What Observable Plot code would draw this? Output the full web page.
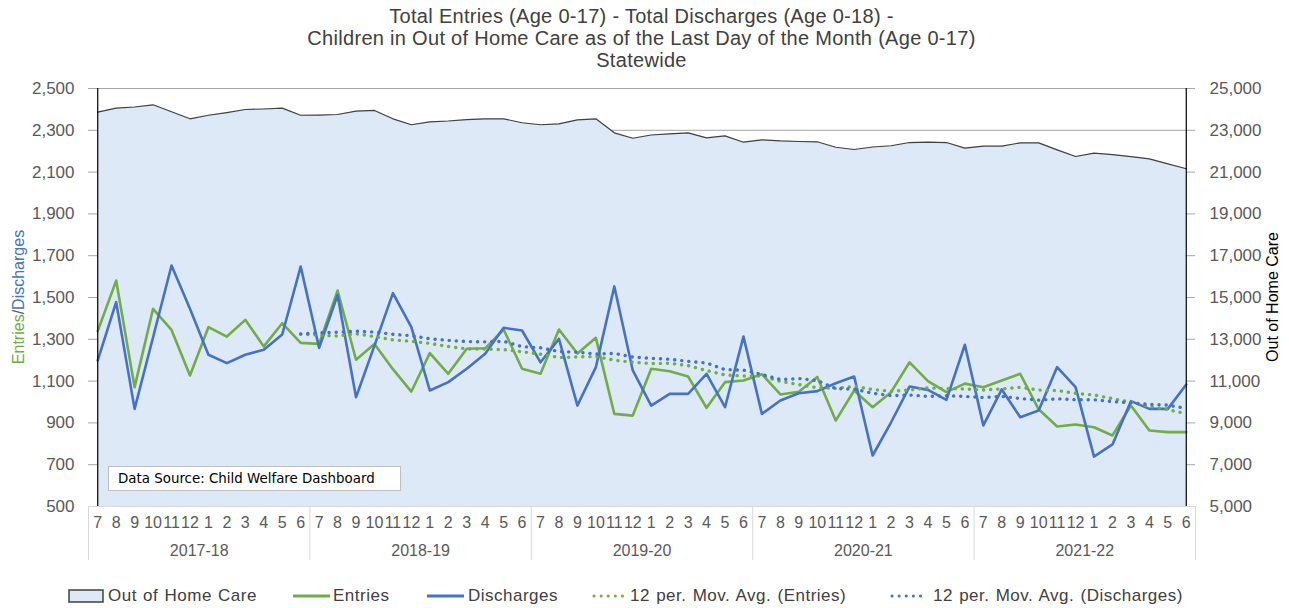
<!DOCTYPE html>
<html>
<head>
<meta charset="utf-8">
<script src="https://cdn.jsdelivr.net/npm/d3@7"></script>
<script src="https://cdn.jsdelivr.net/npm/@observablehq/plot@0.6"></script>
<style>
  body { margin: 0; background: #fff; font-family: "Liberation Sans", Arial, sans-serif; }
  #wrap { position: relative; width: 1289px; height: 608px; overflow: hidden; }
  #title { position: absolute; left: 0; top: 5px; width: 1283px; text-align: center; font-size: 20px; letter-spacing: 0.3px; line-height: 22px; color: #404040; }
  #chart { position: absolute; left: 0; top: 72px; }
  #src { position: absolute; left: 108px; top: 466px; width: 293px; height: 25px; border: 1px solid #bfbfbf; background: #fff;
         font-family: "DejaVu Sans", sans-serif; font-size: 13.4px; line-height: 24px; padding-left: 9px; box-sizing: border-box; color: #000; }
  #legend { position: absolute; left: 0; top: 584px; width: 1289px; height: 24px; font-size: 17px; letter-spacing: 0.5px; word-spacing: 1px; color: #404040; }
  .item { position: absolute; top: 0; height: 24px; display: flex; align-items: center; white-space: nowrap; }
  .item svg { display: block; }
</style>
</head>
<body>
<div id="wrap">
  <div id="title">Total Entries (Age 0-17) - Total Discharges (Age 0-18) -<br>Children in Out of Home Care as of the Last Day of the Month (Age 0-17)<br>Statewide</div>
  <div id="chart"></div>
  <div id="src">Data Source: Child Welfare Dashboard</div>
  <div id="legend"></div>
</div>
<script>
// ---- data ----
const monthLabels = ["7","8","9","10","11","12","1","2","3","4","5","6"];
const fiscalYears = ["2017-18","2018-19","2019-20","2020-21","2021-22"];
const leftTicks = [500, 700, 900, 1100, 1300, 1500, 1700, 1900, 2100, 2300, 2500];

const entries = [
  1339, 1581, 1071, 1446, 1345, 1127, 1358, 1313, 1393, 1266, 1377, 1283,
  1278, 1533, 1202, 1278, 1157, 1050, 1234, 1135, 1255, 1257, 1347, 1159,
  1135, 1347, 1232, 1307,  943,  935, 1159, 1147, 1122,  972, 1095, 1103,
  1133, 1036, 1049, 1120,  911, 1055,  975, 1047, 1190, 1100, 1047, 1088,
  1071, 1103, 1135,  965,  883,  892,  879,  840,  983,  864,  856,  856
];
const discharges = [
  1199, 1478,  967, 1310, 1653, 1446, 1226, 1186, 1226, 1250, 1323, 1648,
  1259, 1512, 1023, 1270, 1521, 1358, 1055, 1095, 1159, 1231, 1355, 1342,
  1190, 1302,  983, 1167, 1553, 1151,  983, 1039, 1039, 1135,  975, 1313,
   943, 1007, 1042, 1052, 1090, 1122,  744,  903, 1074, 1058, 1010, 1274,
   888, 1060,  927,  959, 1167, 1071,  739,  797, 1004,  967,  967, 1084
];
const outOfHomeCare = [
  23870, 24060, 24115, 24220, 23885, 23550, 23720, 23850, 23995, 24020, 24060, 23720,
  23730, 23755, 23915, 23950, 23550, 23265, 23405, 23445, 23515, 23550, 23550, 23360,
  23265, 23310, 23500, 23550, 22880, 22620, 22775, 22830, 22880, 22640, 22735, 22430,
  22545, 22495, 22465, 22450, 22190, 22080, 22200, 22260, 22415, 22430, 22415, 22145,
  22240, 22240, 22400, 22400, 22065, 21745, 21905, 21840, 21745, 21635, 21395, 21160
];

// ---- build table ----
const data = entries.map((e, i) => ({
  i,
  month: monthLabels[i % 12],
  entries: e,
  discharges: discharges[i],
  ooh: outOfHomeCare[i]
}));
const n = data.length;
const yearBounds = d3.range(fiscalYears.length + 1).map(k => k * 12 - 0.5);
const yearCenters = fiscalYears.map((_, k) => k * 12 + 5.5);

const green = "#70ad47", blue = "#4472c4";
const textGray = "#595959";

const chart = Plot.plot({
  width: 1289,
  height: 508,
  marginLeft: 88,
  marginRight: 94,
  marginTop: 16,
  marginBottom: 74,
  style: { fontFamily: "'Liberation Sans', Arial, sans-serif", fontSize: "17px", color: textGray, background: "transparent", overflow: "visible" },
  x: { type: "linear", domain: [-0.5, n - 0.5], axis: null, label: null },
  y: { domain: [500, 2500], axis: null, label: null },
  marks: [
    // gridlines (behind the area)
    Plot.ruleY(leftTicks, { stroke: "#a6a6a6", strokeWidth: 1 }),
    // Out of Home Care area (secondary axis = left value x 10)
    Plot.areaY(data, { x: "i", y1: 500, y2: d => d.ooh / 10, fill: "#dde9f6" }),
    Plot.lineY(data, { x: "i", y: d => d.ooh / 10, stroke: "#404040", strokeWidth: 1.2 }),
    // category axis base line
    Plot.ruleY([500], { stroke: "#d9d9d9", strokeWidth: 1 }),
    // Entries & Discharges
    Plot.lineY(data, { x: "i", y: "entries", stroke: green, strokeWidth: 2.6, strokeLinejoin: "round" }),
    Plot.lineY(data, { x: "i", y: "discharges", stroke: blue, strokeWidth: 2.6, strokeLinejoin: "round" }),
    // 12-period moving averages (trendlines)
    Plot.lineY(data, Plot.windowY({ k: 12, anchor: "end", strict: true },
      { x: "i", y: "entries", stroke: green, strokeWidth: 3.4, strokeDasharray: "0.1 7", strokeLinecap: "round" })),
    Plot.lineY(data, Plot.windowY({ k: 12, anchor: "end", strict: true },
      { x: "i", y: "discharges", stroke: blue, strokeWidth: 3.4, strokeDasharray: "0.1 7", strokeLinecap: "round" })),
    // axis lines
    Plot.ruleX([0], { y1: 500, y2: 2500, stroke: "#000", strokeWidth: 1.2 }),
    Plot.ruleX([n - 1], { y1: 500, y2: 2500, stroke: "#000", strokeWidth: 1.2 }),
    // y axes
    Plot.axisY(leftTicks, { anchor: "left", label: null, tickSize: 0, tickPadding: 14, tickFormat: d3.format(","), fill: textGray }),
    Plot.axisY(leftTicks, { anchor: "right", label: null, tickSize: 0, tickPadding: 14, tickFormat: d => d3.format(",")(d * 10), fill: textGray }),
    // x category axis (months, fiscal years, separators)
    Plot.axisX(d3.range(n), { anchor: "bottom", label: null, tickSize: 0, tickPadding: 10, tickFormat: i => monthLabels[i % 12], fill: textGray, fontSize: 16 }),
    Plot.axisX(yearCenters, { anchor: "bottom", label: null, tickSize: 0, tickPadding: 38, tickFormat: (d, k) => fiscalYears[k], fill: textGray, fontSize: 16 }),
    Plot.axisX(yearBounds, { anchor: "bottom", label: null, tickSize: 54, tickFormat: () => "", stroke: "#d9d9d9" })
  ]
});

document.getElementById("chart").appendChild(chart);

// axis titles
const svg = d3.select(chart);
const yMid = 225;
const lt = svg.append("text")
  .attr("transform", `translate(24,${yMid}) rotate(-90)`)
  .attr("text-anchor", "middle")
  .attr("font-size", 16)
  .attr("font-family", "'Liberation Sans', Arial, sans-serif");
lt.append("tspan").attr("fill", green).text("Entries");
lt.append("tspan").attr("fill", textGray).text("/");
lt.append("tspan").attr("fill", blue).text("Discharges");
svg.append("text")
  .attr("transform", `translate(1278,${yMid}) rotate(-90)`)
  .attr("text-anchor", "middle")
  .attr("font-size", 16)
  .attr("font-family", "'Liberation Sans', Arial, sans-serif")
  .attr("fill", "#000")
  .text("Out of Home Care");

// legend
const legendItems = [
  { label: "Out of Home Care", left: 68, type: "area", w: 36, gap: 4 },
  { label: "Entries", left: 293, type: "line", color: green, w: 37, gap: 3 },
  { label: "Discharges", left: 427, type: "line", color: blue, w: 37, gap: 4 },
  { label: "12 per. Mov. Avg. (Entries)", left: 592, type: "dot", color: green, w: 33, gap: 5 },
  { label: "12 per. Mov. Avg. (Discharges)", left: 890, type: "dot", color: blue, w: 38, gap: 5 }
];
const legend = d3.select("#legend");
legendItems.forEach(it => {
  const div = legend.append("div").attr("class", "item").style("left", it.left + "px");
  const s = div.append("svg").attr("width", it.w).attr("height", 16);
  if (it.type === "area") {
    s.append("rect").attr("x", 1).attr("y", 2).attr("width", it.w - 2).attr("height", 12)
      .attr("fill", "#dde9f6").attr("stroke", "#404040").attr("stroke-width", 1.5);
  } else if (it.type === "line") {
    s.append("line").attr("x1", 0).attr("x2", it.w).attr("y1", 8).attr("y2", 8)
      .attr("stroke", it.color).attr("stroke-width", 3);
  } else {
    s.append("line").attr("x1", 2).attr("x2", it.w - 1).attr("y1", 8).attr("y2", 8)
      .attr("stroke", it.color).attr("stroke-width", 3).attr("stroke-linecap", "round")
      .attr("stroke-dasharray", "0.1 7");
  }
  div.append("span").style("margin-left", it.gap + "px").text(it.label);
});
</script>
</body>
</html>
